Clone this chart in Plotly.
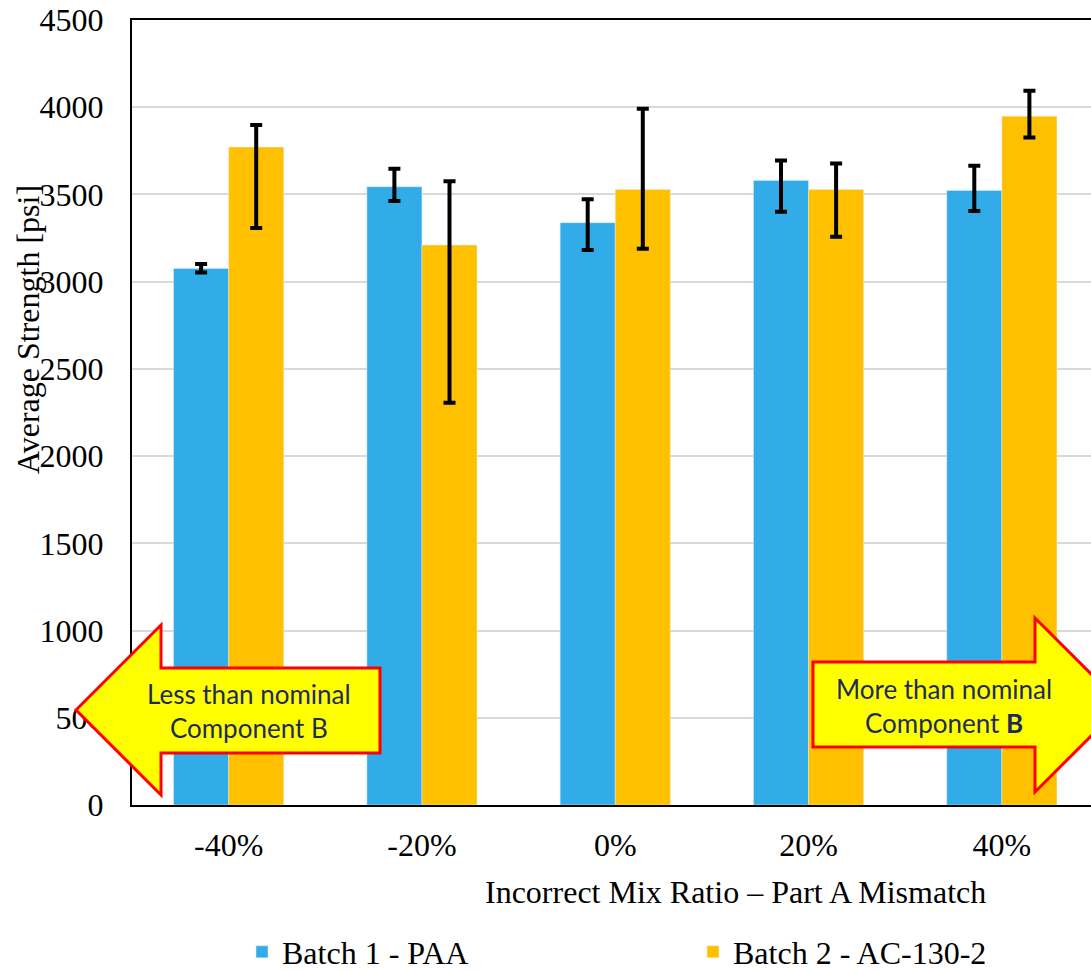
import plotly.graph_objects as go

# Average strength by mix-ratio mismatch, with min/max spread
categories = ["-40%", "-20%", "0%", "20%", "40%"]

batch1_mean = [3076, 3544, 3338, 3580, 3523]
batch1_plus = [25, 103, 134, 115, 141]
batch1_minus = [24, 81, 156, 179, 118]

batch2_mean = [3772, 3210, 3529, 3529, 3948]
batch2_plus = [126, 365, 462, 149, 147]
batch2_minus = [464, 904, 341, 272, 122]

y_ticks = list(range(0, 5000, 500))

W, H = 1091, 971
L, T, B = 132, 20, 166
PW, PH = W - L, H - T - B


def px(x):
    return (x - L) / PW


def py(y):
    return (H - B - y) / PH


def path(points):
    d = "M " + " L ".join(f"{px(x):.5f},{py(y):.5f}" for x, y in points)
    return d + " Z"


BLUE = "#32ACE9"
GOLD = "#FFC000"
SERIF = "Liberation Serif"
NAVY = "#1D2B5C"
FS = 32

err_style = dict(color="black", thickness=4, width=6)

fig = go.Figure()
fig.add_trace(go.Bar(
    name="Batch 1 - PAA", x=categories, y=batch1_mean, marker_color=BLUE,
    showlegend=True,
    error_y=dict(type="data", symmetric=False, array=batch1_plus,
                 arrayminus=batch1_minus, **err_style),
))
fig.add_trace(go.Bar(
    name="Batch 2 - AC-130-2", x=categories, y=batch2_mean, marker_color=GOLD,
    legend="legend2", showlegend=True,
    error_y=dict(type="data", symmetric=False, array=batch2_plus,
                 arrayminus=batch2_minus, **err_style),
))

# Direction arrows
left_arrow = [(76, 710), (161, 625), (161, 668), (380, 668), (380, 753),
              (161, 753), (161, 795)]
right_arrow = [(813, 662), (1035, 662), (1035, 618), (1122, 705),
               (1035, 792), (1035, 747), (813, 747)]
for pts in (left_arrow, right_arrow):
    fig.add_shape(type="path", path=path(pts), xref="paper", yref="paper",
                  fillcolor="#FFFF00", line=dict(color="#FF0000", width=3),
                  layer="above")

arrow_font = dict(family="Lato", size=26, color=NAVY)
fig.add_annotation(x=px(249), y=py(711), xref="paper", yref="paper",
                   xanchor="center", yanchor="middle",
                   text="Less than nominal<br>Component B", showarrow=False,
                   font=arrow_font, align="center")
fig.add_annotation(x=px(944), y=py(706), xref="paper", yref="paper",
                   xanchor="center", yanchor="middle",
                   text="More than nominal<br>Component <b>B</b>", showarrow=False,
                   font=arrow_font, align="center")

# Axis titles
fig.add_annotation(x=px(28), y=py(330), xref="paper", yref="paper",
                   xanchor="center", yanchor="middle",
                   text="Average Strength [psi]", textangle=-90, showarrow=False,
                   font=dict(family=SERIF, size=FS, color="black"))
fig.add_annotation(x=px(735), y=py(892), xref="paper", yref="paper",
                   xanchor="center", yanchor="middle",
                   text="Incorrect Mix Ratio – Part A Mismatch", showarrow=False,
                   font=dict(family=SERIF, size=FS, color="black"))

legend_common = dict(orientation="h", xanchor="left", yanchor="middle",
                     font=dict(family=SERIF, size=FS), visible=True,
                     bgcolor="rgba(0,0,0,0)", borderwidth=0)

fig.update_layout(
    width=W, height=H,
    margin=dict(l=L, r=0, t=T, b=B, autoexpand=False),
    paper_bgcolor="white", plot_bgcolor="white",
    barmode="group", bargap=0.43, bargroupgap=0,
    font=dict(family=SERIF, size=FS, color="black"),
    showlegend=True,
    legend=dict(x=px(242), y=py(952), **legend_common),
    legend2=dict(x=px(693), y=py(952), **legend_common),
)
fig.update_xaxes(
    range=[-0.5, -0.5 + PW / 193.3], showgrid=False, zeroline=False,
    showline=True, linecolor="black", linewidth=2, mirror=True,
    ticks="", ticklabelstandoff=11,
)
fig.update_yaxes(
    range=[0, 4500], tickvals=y_ticks, showgrid=True, gridcolor="#D9D9D9",
    gridwidth=2, zeroline=False, showline=True, linecolor="black",
    linewidth=2, ticks="", ticklabelstandoff=20,
)

fig.write_html("out.html")
